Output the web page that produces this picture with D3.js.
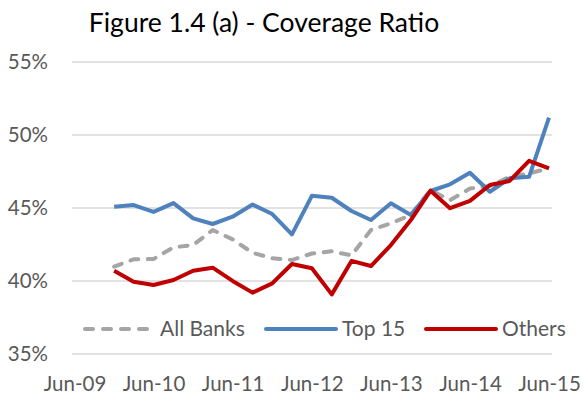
<!DOCTYPE html>
<html>
<head>
<meta charset="utf-8">
<script src="https://cdn.jsdelivr.net/npm/d3@7"></script>
<style>
  html, body { margin: 0; padding: 0; background: #fff; }
  svg { display: block; font-family: Lato, "Open Sans", sans-serif; }
</style>
</head>
<body>
<svg id="chart" width="584" height="401"></svg>
<script>
// Quarter-end dates of each observation
const quarters = [
  "2009-12", "2010-03", "2010-06", "2010-09", "2010-12",
  "2011-03", "2011-06", "2011-09", "2011-12",
  "2012-03", "2012-06", "2012-09", "2012-12",
  "2013-03", "2013-06", "2013-09", "2013-12",
  "2014-03", "2014-06", "2014-09", "2014-12",
  "2015-03", "2015-06"
];

// Coverage ratio, per cent
const allBanks = [40.95, 41.45, 41.47, 42.27, 42.43, 43.46, 42.82, 41.9, 41.52, 41.4, 41.85, 42.0,
  41.72, 43.46, 43.92, 44.49, 46.2, 45.5, 46.3, 46.47, 47.1, 47.34, 47.68];
const top15 = [45.05, 45.17, 44.7, 45.3, 44.26, 43.87, 44.37, 45.2, 44.55, 43.16, 45.8, 45.67,
  44.76, 44.14, 45.29, 44.49, 46.13, 46.59, 47.38, 46.08, 47.0, 47.1, 51.15];
const others = [40.67, 39.92, 39.69, 40.03, 40.67, 40.88, 39.97, 39.17, 39.8, 41.13, 40.84, 39.05,
  41.34, 40.99, 42.43, 44.14, 46.15, 44.95, 45.45, 46.54, 46.82, 48.2, 47.68];

// Axis ticks
const yTicks = [35, 40, 45, 50, 55];
const xTickLabels = ["2009-06", "2010-06", "2011-06", "2012-06", "2013-06", "2014-06", "2015-06"];

const seriesNames = ["All Banks", "Top 15", "Others"];

const parseMonth = d3.timeParse("%Y-%m");
const dates = quarters.map(parseMonth);
const tickDates = xTickLabels.map(parseMonth);

const svg = d3.select("#chart");
const textColor = "#595959";

const x = d3.scaleTime()
  .domain([parseMonth("2009-06"), parseMonth("2015-06")])
  .range([74.5, 549]);
const y = d3.scaleLinear().domain([35, 55]).range([353.5, 61.5]);

const plotLeft = 72, plotRight = 552;

// Title
svg.append("text")
  .attr("x", 264).attr("y", 32)
  .attr("text-anchor", "middle")
  .attr("font-size", 26.5)
  .attr("fill", "#000")
  .text("Figure 1.4 (a) - Coverage Ratio");

// Horizontal gridlines
const yAxis = d3.axisLeft(y)
  .tickValues(yTicks)
  .tickSize(-(plotRight - plotLeft))
  .tickPadding(24)
  .tickFormat(d => d + "%");

svg.append("g")
  .attr("transform", `translate(${plotLeft},0)`)
  .call(yAxis)
  .call(g => g.select(".domain").remove())
  .call(g => g.selectAll(".tick line").attr("stroke", "#D9D9D9").attr("stroke-width", 1.5))
  .call(g => g.selectAll(".tick text")
    .attr("fill", textColor).attr("font-size", 20.5).attr("font-family", "Lato, sans-serif"));

// Date axis labels
const xAxis = d3.axisBottom(x)
  .tickValues(tickDates)
  .tickSize(0)
  .tickPadding(0)
  .tickFormat(d3.timeFormat("%b-%y"));

svg.append("g")
  .attr("transform", "translate(0,376)")
  .call(xAxis)
  .call(g => g.select(".domain").remove())
  .call(g => g.selectAll(".tick text")
    .attr("fill", textColor).attr("font-size", 20.5).attr("font-family", "Lato, sans-serif"));

const series = [
  { name: seriesNames[0], values: allBanks, color: "#A5A5A5", dash: "8,9.5" },
  { name: seriesNames[1], values: top15, color: "#4F81BD", dash: null },
  { name: seriesNames[2], values: others, color: "#C00000", dash: null }
];

const line = d3.line()
  .x((d, i) => x(dates[i]))
  .y(d => y(d));

svg.append("g").selectAll("path")
  .data(series)
  .join("path")
  .attr("d", s => line(s.values))
  .attr("fill", "none")
  .attr("stroke", s => s.color)
  .attr("stroke-width", 4)
  .attr("stroke-linejoin", "round")
  .attr("stroke-linecap", s => s.dash ? "round" : "butt")
  .attr("stroke-dasharray", s => s.dash);

// Legend
const legendY = 329;
const legendItems = [
  { x1: 85, x2: 155, tx: 160 },
  { x1: 266, x2: 336, tx: 342 },
  { x1: 426, x2: 496, tx: 502 }
];
const legend = svg.append("g").selectAll("g")
  .data(series)
  .join("g");
legend.append("line")
  .attr("x1", (s, i) => legendItems[i].x1)
  .attr("x2", (s, i) => legendItems[i].x2)
  .attr("y1", legendY).attr("y2", legendY)
  .attr("stroke", s => s.color)
  .attr("stroke-width", 4)
  .attr("stroke-linecap", "round")
  .attr("stroke-dasharray", s => s.dash ? "8,10" : null);
legend.append("text")
  .attr("x", (s, i) => legendItems[i].tx)
  .attr("y", legendY)
  .attr("dy", "0.35em")
  .attr("font-size", 21)
  .attr("fill", textColor)
  .text(s => s.name);
</script>
</body>
</html>
